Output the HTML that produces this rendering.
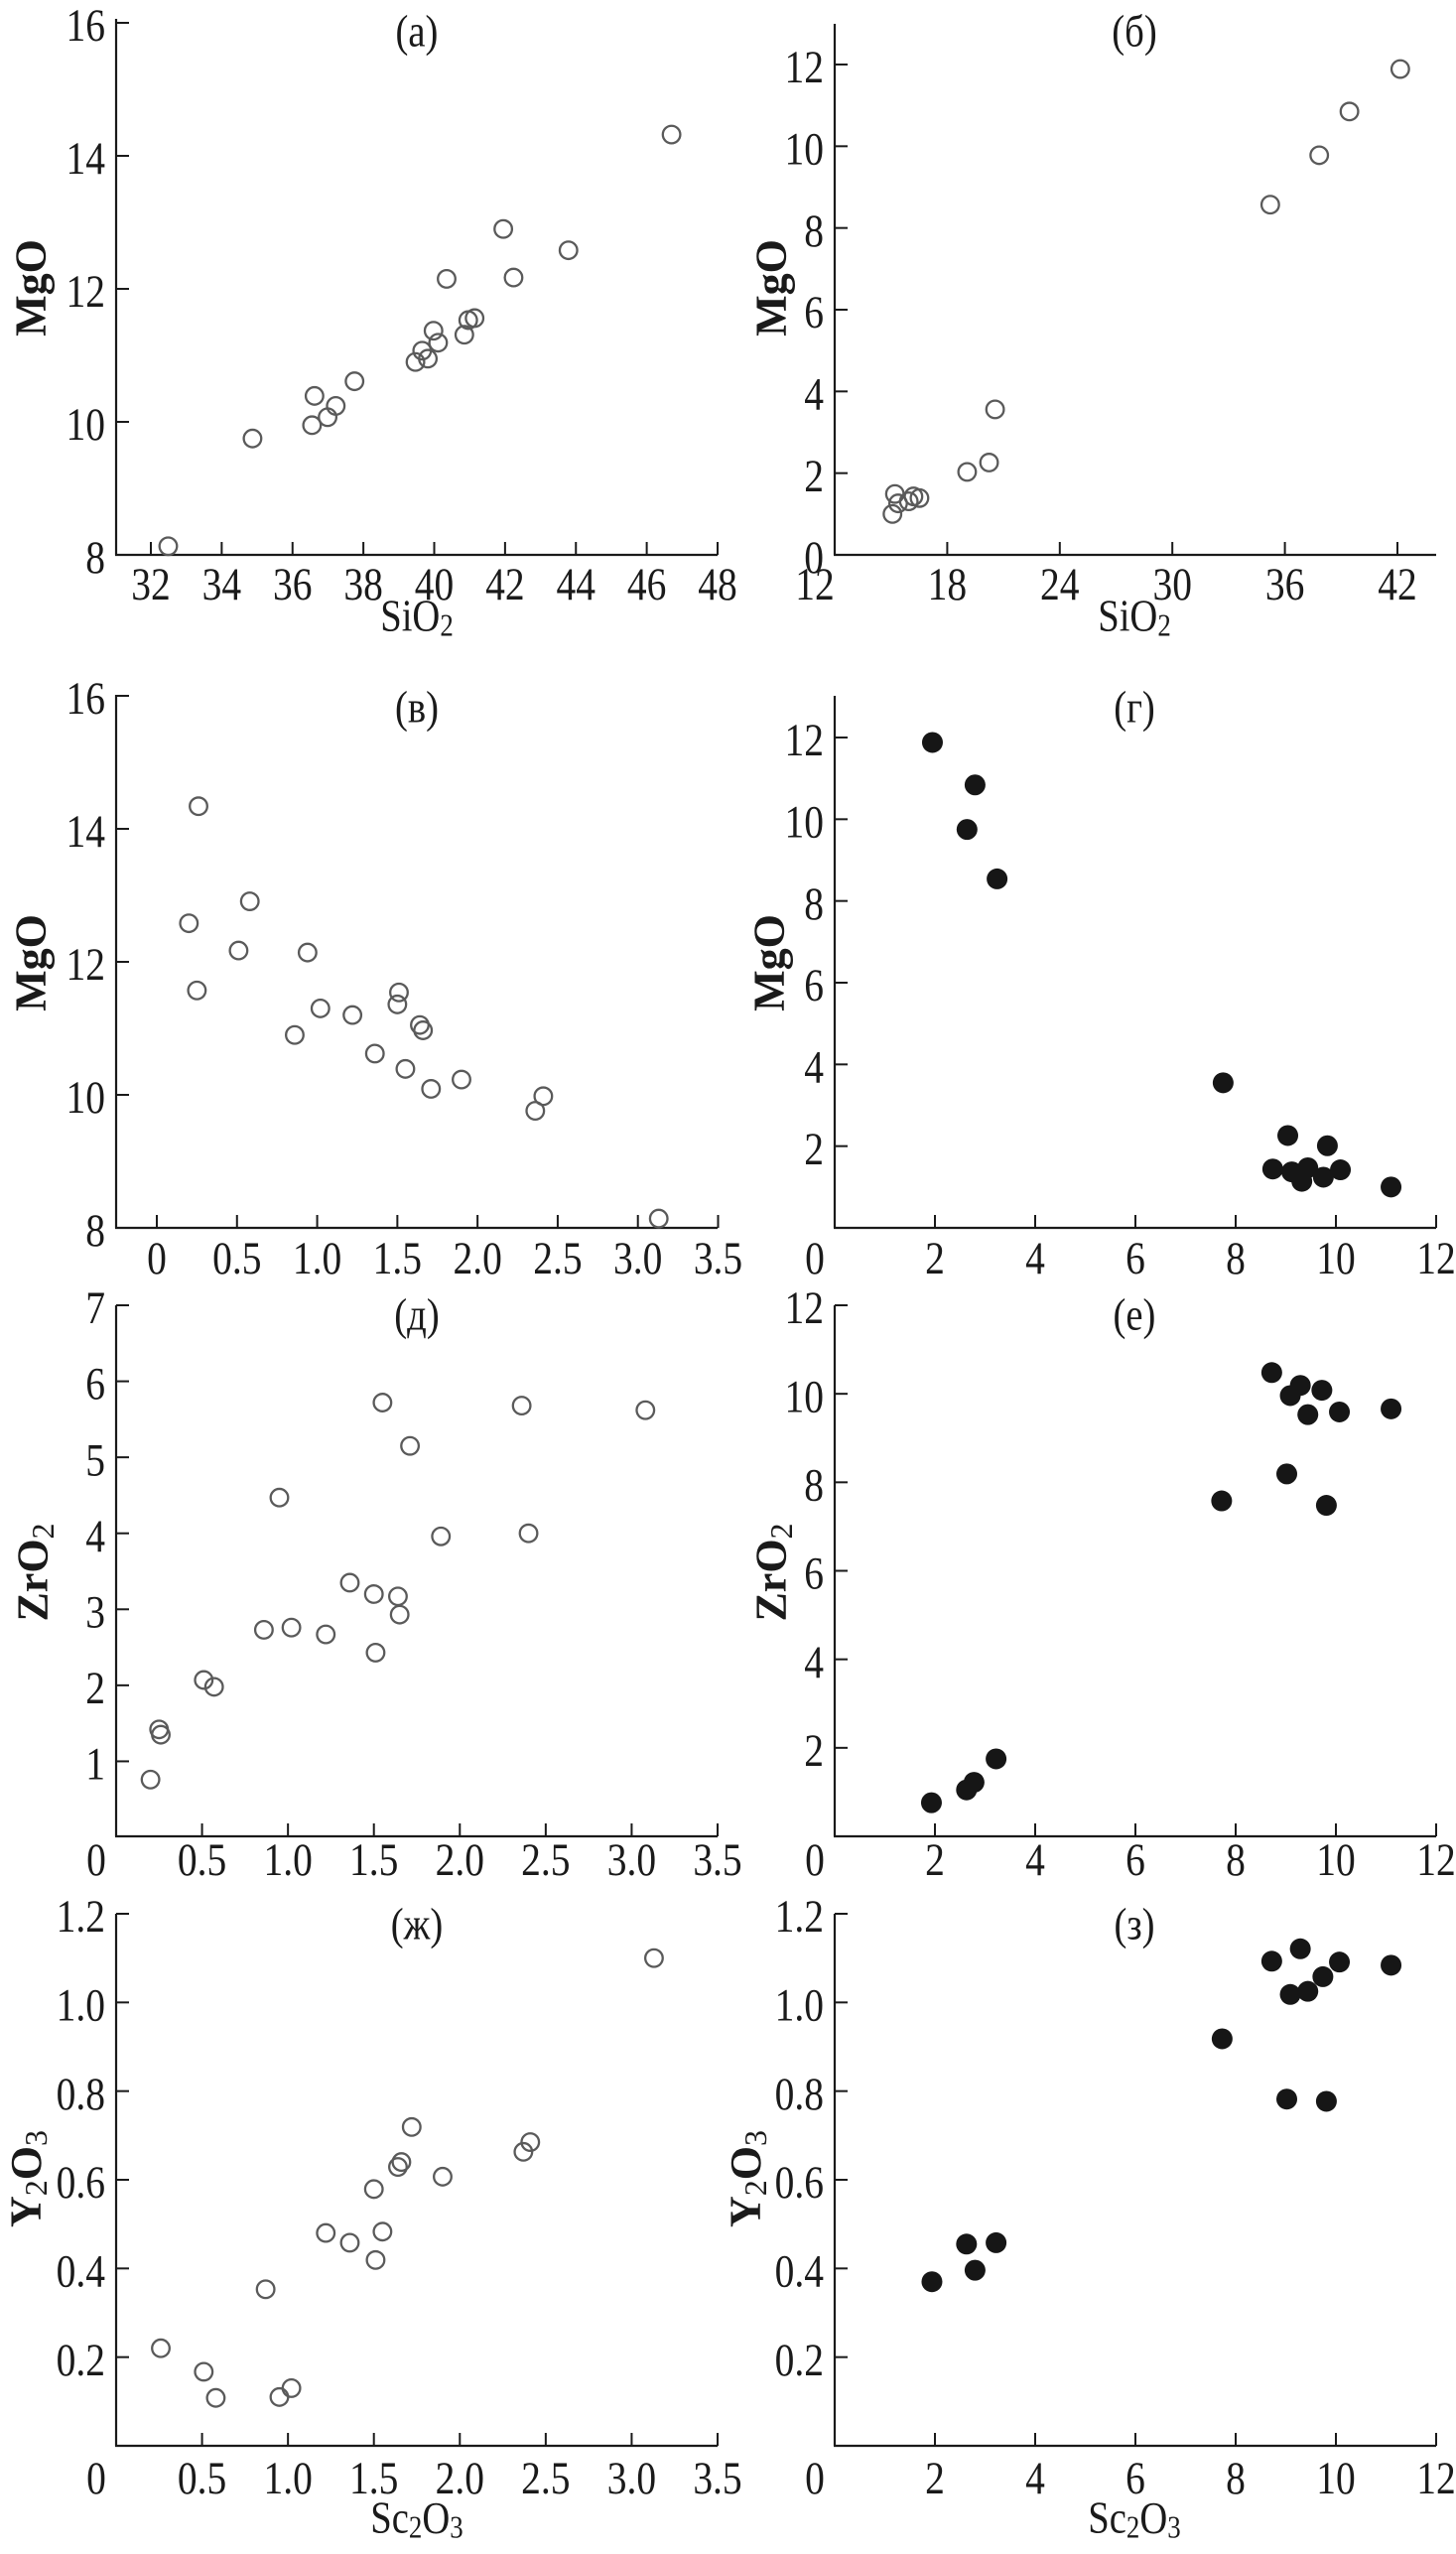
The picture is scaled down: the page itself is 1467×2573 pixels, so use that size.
<!DOCTYPE html>
<html><head><meta charset="utf-8">
<style>
html,body{margin:0;padding:0;background:#fff;}
svg{display:block;}
text{font-family:"Liberation Serif",serif;fill:#1a1a1a;}
</style></head>
<body>
<svg id="fig" width="1467" height="2573" viewBox="0 0 1467 2573" xmlns="http://www.w3.org/2000/svg"></svg>
<script>
// ---- data ----
const aX = [32.49,34.87,36.62,36.55,36.99,37.22,37.75,39.47,39.66,39.82,39.98,40.11,40.35,40.85,40.96,41.14,41.95,42.24,43.79,46.70];
const aY = [8.13,9.75,10.39,9.95,10.07,10.24,10.61,10.90,11.07,10.95,11.37,11.19,12.15,11.31,11.53,11.56,12.90,12.17,12.58,14.32];
const bX = [15.08,15.21,15.38,15.95,16.20,16.52,19.06,20.23,20.55,35.22,37.83,39.44,42.15];
const bY = [1.00,1.49,1.26,1.31,1.43,1.39,2.03,2.26,3.56,8.57,9.78,10.85,11.89];
const vX = [0.26,0.20,0.25,0.51,0.58,0.86,0.94,1.02,1.22,1.36,1.50,1.51,1.55,1.64,1.66,1.71,1.90,2.36,2.41,3.13];
const vY = [14.34,12.58,11.57,12.17,12.91,10.90,12.14,11.30,11.20,10.62,11.36,11.54,10.39,11.05,10.97,10.09,10.23,9.76,9.98,8.14];
const gX = [1.95,2.80,2.64,3.24,7.75,8.74,9.04,9.12,9.32,9.44,9.75,9.83,10.09,11.10];
const gY = [11.88,10.84,9.75,8.54,3.55,1.44,2.26,1.37,1.14,1.47,1.24,2.01,1.42,1.00];
const dX = [0.20,0.25,0.26,0.51,0.57,0.86,0.95,1.02,1.22,1.36,1.50,1.51,1.55,1.64,1.65,1.71,1.89,2.36,2.40,3.08];
const dY = [0.76,1.42,1.35,2.07,1.98,2.73,4.47,2.76,2.67,3.35,3.20,2.43,5.72,3.17,2.93,5.15,3.96,5.68,4.00,5.62];
const eX = [1.93,2.63,2.78,3.22,7.72,8.72,9.02,9.09,9.29,9.44,9.72,9.81,10.07,11.10];
const eY = [0.76,1.05,1.22,1.75,7.58,10.48,8.19,9.96,10.19,9.53,10.08,7.48,9.59,9.66];
const zhX = [0.26,0.51,0.58,0.95,1.02,0.87,1.22,1.36,1.50,1.51,1.55,1.64,1.66,1.72,1.90,2.37,2.41,3.13];
const zhY = [0.220,0.167,0.108,0.110,0.130,0.353,0.480,0.458,0.579,0.419,0.483,0.629,0.640,0.719,0.607,0.663,0.685,1.100];
const zX = [1.94,2.63,2.80,3.22,7.73,8.72,9.02,9.09,9.29,9.44,9.74,9.81,10.07,11.10];
const zY = [0.370,0.455,0.396,0.458,0.918,1.093,0.782,1.018,1.121,1.025,1.058,0.777,1.091,1.084];

const ticksSi1 = [32,34,36,38,40,42,44,46,48];
const ticksMg1 = [8,10,12,14,16];
const ticksSi2 = [12,18,24,30,36,42];
const ticksMg2 = [0,2,4,6,8,10,12];
const ticksSc1 = [0,0.5,1.0,1.5,2.0,2.5,3.0,3.5];
const ticksSc2 = [0,2,4,6,8,10,12];
const ticksMg2b = [2,4,6,8,10,12];
const ticksZr1 = [1,2,3,4,5,6,7];
const ticksZr2 = [2,4,6,8,10,12];
const ticksY = [0.2,0.4,0.6,0.8,1.0,1.2];

const NS = "http://www.w3.org/2000/svg";
const svg = document.getElementById('fig');
const SX = 0.84;
function mk(tag, attrs, parent){
  const e = document.createElementNS(NS, tag);
  for (const k in attrs) e.setAttribute(k, attrs[k]);
  (parent||svg).appendChild(e);
  return e;
}
function fmt(v, dec){ if (v === 0) return "0"; return dec ? v.toFixed(dec) : String(v); }

function panel(p){
  const g = mk('g', {});
  
  
  const sx = v => p.px0 + (v - p.x0) * (p.px1 - p.px0) / (p.x1 - p.x0);
  const sy = v => p.py0 + (v - p.y0) * (p.py1 - p.py0) / (p.y1 - p.y0);
  const ya = mk('line', {x1:p.left, y1:p.top, x2:p.left, y2:p.base, stroke:'#1a1a1a','stroke-width':2.2}, g);
  
  
  const xa = mk('line', {x1:p.left-1, y1:p.base, x2:p.right, y2:p.base, stroke:'#1a1a1a','stroke-width':2.2}, g);
  
  
  p.xt.forEach(v => {
    const x = sx(v);
    if (Math.abs(x - p.left) > 3) {
      const t = mk('line', {x1:x, y1:p.base, x2:x, y2:p.base-13, stroke:'#1a1a1a','stroke-width':2}, g);
      
      
    }
    const lx = Math.abs(x - p.left) < 3 ? x - 20 : x;
    const tl = mk('text', {x:lx/SX, y:p.xlabY, 'font-size':47, 'text-anchor':'middle','dominant-baseline':'central', transform:`scale(${SX},1)`}, g);
    tl.textContent = fmt(v, p.xdec);
    
    
  });
  p.yt.forEach(v => {
    const y = sy(v);
    if (Math.abs(y - p.base) > 3) {
      const t = mk('line', {x1:p.left, y1:y, x2:p.left+13, y2:y, stroke:'#1a1a1a','stroke-width':2}, g);
      
      
    }
    const tl = mk('text', {x:(p.left-11)/SX, y:y+3, 'font-size':47, 'text-anchor':'end','dominant-baseline':'central', transform:`scale(${SX},1)`}, g);
    tl.textContent = fmt(v, p.ydec);
    
    
  });
  const ti = mk('text', {x:p.tx/SX, y:p.ty, 'font-size':46, 'text-anchor':'middle','dominant-baseline':'central', transform:`scale(${SX},1)`}, g);
  ti.textContent = p.title;
  
  
  const yt = mk('text', {x:0, y:0, 'font-size':44, 'font-weight':'bold', 'text-anchor':'middle','dominant-baseline':'central', transform:`translate(${p.ytx},${p.yty}) rotate(-90)`}, g);
  yt.innerHTML = p.ytitle;
  
  
  if (p.xtitle) {
    const xt = mk('text', {x:p.xtx/SX, y:p.xty, 'font-size':46, 'text-anchor':'middle','dominant-baseline':'central', transform:`scale(${SX},1)`}, g);
    xt.innerHTML = p.xtitle;
    
    
  }
  p.xs.forEach((xv, i) => {
    const c = p.filled
      ? mk('circle', {cx:sx(xv), cy:sy(p.ys[i]), r:10.5, fill:'#161616'}, g)
      : mk('circle', {cx:sx(xv), cy:sy(p.ys[i]), r:8.8, fill:'none', stroke:'#5a5a5a','stroke-width':2.3}, g);
    
    
  });
}

const sub = s => `<tspan dy="10" font-size="32" font-weight="normal">${s}</tspan><tspan dy="-10">`;
const SiO2 = 'SiO' + sub('2') + '</tspan>';
const ZrO2 = 'ZrO' + sub('2') + '</tspan>';
const Y2O3 = 'Y' + sub('2') + 'O' + sub('3') + '</tspan></tspan>';
const Sc2O3 = 'Sc' + sub('2') + 'O' + sub('3') + '</tspan></tspan>';

const L = {left:117, right:723}, R = {left:841, right:1447};
panel({id:'a', ...L, top:19, base:559, x0:32,x1:48,px0:152,px1:723, y0:8,y1:16,py0:559,py1:23,
  xt:ticksSi1, yt:ticksMg1, xlabY:589, title:'(a)', tx:420, ty:32, ytitle:'MgO', ytx:31, yty:290,
  xtitle:SiO2, xtx:420, xty:621, xs:aX, ys:aY});
panel({id:'b', ...R, top:24, base:559, x0:12,x1:42,px0:841,px1:1408, y0:0,y1:12,py0:559,py1:65,
  xt:ticksSi2, yt:ticksMg2, xlabY:589, title:'(б)', tx:1143, ty:32, ytitle:'MgO', ytx:777, yty:290,
  xtitle:SiO2, xtx:1143, xty:621, xs:bX, ys:bY});
panel({id:'v', ...L, top:700, base:1237, x0:0,x1:3.5,px0:158,px1:723.5, y0:8,y1:16,py0:1237,py1:701,
  xt:ticksSc1, xdec:1, yt:ticksMg1, xlabY:1268, title:'(в)', tx:420, ty:713, ytitle:'MgO', ytx:31, yty:970,
  xs:vX, ys:vY});
panel({id:'g', ...R, top:701, base:1237, x0:0,x1:12,px0:841,px1:1447, y0:0,y1:12,py0:1237,py1:743,
  xt:ticksSc2, yt:ticksMg2b, xlabY:1268, title:'(г)', tx:1143, ty:713, ytitle:'MgO', ytx:775, yty:970,
  xs:gX, ys:gY, filled:true});
panel({id:'d', ...L, top:1315, base:1850, x0:0,x1:3.5,px0:117,px1:723, y0:0,y1:7,py0:1851,py1:1315,
  xt:ticksSc1, xdec:1, yt:ticksZr1, xlabY:1874, title:'(д)', tx:420, ty:1325, ytitle:ZrO2, ytx:33, yty:1584,
  xs:dX, ys:dY});
panel({id:'e', ...R, top:1315, base:1850, x0:0,x1:12,px0:841,px1:1447, y0:0,y1:12,py0:1850,py1:1315,
  xt:ticksSc2, yt:ticksZr2, xlabY:1874, title:'(е)', tx:1143, ty:1325, ytitle:ZrO2, ytx:777, yty:1584,
  xs:eX, ys:eY, filled:true});
panel({id:'zh', ...L, top:1928, base:2464, x0:0,x1:3.5,px0:117,px1:723, y0:0,y1:1.2,py0:2464,py1:1928,
  xt:ticksSc1, xdec:1, yt:ticksY, ydec:1, xlabY:2497, title:'(ж)', tx:420, ty:1939, ytitle:Y2O3, ytx:26, yty:2195,
  xtitle:Sc2O3, xtx:420, xty:2537, xs:zhX, ys:zhY});
panel({id:'z', ...R, top:1928, base:2464, x0:0,x1:12,px0:841,px1:1447, y0:0,y1:1.2,py0:2464,py1:1928,
  xt:ticksSc2, yt:ticksY, ydec:1, xlabY:2497, title:'(з)', tx:1143, ty:1939, ytitle:Y2O3, ytx:751, yty:2195,
  xtitle:Sc2O3, xtx:1143, xty:2537, xs:zX, ys:zY, filled:true});
</script>
</body></html>
